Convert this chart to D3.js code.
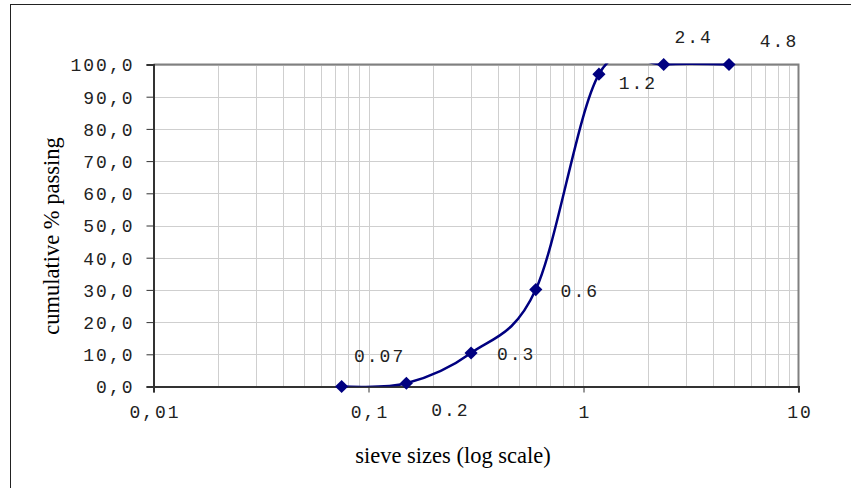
<!DOCTYPE html>
<html><head><meta charset="utf-8">
<script src="https://cdn.jsdelivr.net/npm/d3@7"></script>
<style>body{margin:0;background:#fff;} svg{display:block;}</style>
</head><body>
<svg id="c" width="851" height="488"></svg>
<script>
// ---- data ----
const sieveSizes = [0.075, 0.15, 0.3, 0.6, 1.18, 2.36, 4.75];
const passing    = [0.0, 1.0, 10.4, 30.1, 97.0, 100.0, 100.0];
const pointLabels = ["0.07", "0.2", "0.3", "0.6", "1.2", "2.4", "4.8"];
const xTickValues = [0.01, 0.1, 1, 10];
const xTickLabels = ["0,01", "0,1", "1", "10"];
const yTickValues = [0, 10, 20, 30, 40, 50, 60, 70, 80, 90, 100];
const xTitle = "sieve sizes (log scale)";
const yTitle = "cumulative % passing";

// ---- layout ----
const L = 153.5, R = 798.5, T = 64.5, B = 386.5;
const labelOffsets = [[37,-31],[43,26],[44,1],[43,1],[38,9],[29,-28],[49,-24]];
const monoFont = "'Liberation Mono', 'Courier New', monospace";
const serifFont = "'Liberation Serif', 'Times New Roman', serif";
const monoSize = 18, monoSpacing = 2;

const svg = d3.select("#c");
const x = d3.scaleLog().domain([0.01, 10]).range([L, R]);
const y = d3.scaleLinear().domain([0, 100]).range([B, T]);

// outer frame
svg.append("rect").attr("x", 10.5).attr("y", 4.5).attr("width", 1000).attr("height", 1000)
  .attr("fill", "none").attr("stroke", "#222").attr("stroke-width", 1);

// gridlines
const minor = [];
for (let d = 0.01; d < 10; d *= 10) for (let k = 1; k <= 9; k++) minor.push(d * k);
svg.append("g").selectAll("line").data(minor).join("line")
  .attr("x1", d => Math.round(x(d)) + 0.5).attr("x2", d => Math.round(x(d)) + 0.5)
  .attr("y1", T).attr("y2", B).attr("stroke", "#cfcfcf").attr("stroke-width", 1);
svg.append("g").selectAll("line").data(yTickValues).join("line")
  .attr("x1", L).attr("x2", R)
  .attr("y1", d => Math.round(y(d)) + 0.5).attr("y2", d => Math.round(y(d)) + 0.5)
  .attr("stroke", "#cfcfcf").attr("stroke-width", 1);

// plot border top/right
svg.append("path").attr("d", `M${L},${T}H${R}V${B}`).attr("fill", "none")
  .attr("stroke", "#808080").attr("stroke-width", 2);

// axes
const yAxis = d3.axisLeft(y).tickValues(yTickValues).tickSize(7).tickPadding(12)
  .tickFormat(d => d3.format(".1f")(d).replace(".", ","));
const gy = svg.append("g").attr("transform", `translate(${L},0)`).call(yAxis);
gy.select(".domain").attr("stroke", "#333").attr("stroke-width", 2);
gy.selectAll(".tick line").attr("stroke", "#333").attr("stroke-width", 1);
gy.selectAll(".tick text").attr("font-family", monoFont).attr("font-size", monoSize)
  .attr("letter-spacing", monoSpacing).attr("fill", "#222").attr("dy", "0.35em");

const xAxis = d3.axisBottom(x).tickValues(xTickValues).tickSize(6).tickPadding(13)
  .tickFormat((d, i) => xTickLabels[i]);
const gx = svg.append("g").attr("transform", `translate(0,${B})`).call(xAxis);
gx.select(".domain").attr("stroke", "#333").attr("stroke-width", 2);
gx.selectAll(".tick line").attr("stroke", "#333").attr("stroke-width", 1);
gx.selectAll(".tick text").attr("font-family", monoFont).attr("font-size", monoSize)
  .attr("letter-spacing", monoSpacing).attr("dx", monoSpacing / 2).attr("fill", "#222");

// clip
svg.append("clipPath").attr("id", "clip").append("rect")
  .attr("x", L).attr("y", T - 1).attr("width", R - L).attr("height", B - T + 1);

const pts = sieveSizes.map((s, i) => [x(s), y(passing[i])]);
svg.append("path").attr("clip-path", "url(#clip)")
  .attr("d", d3.line().curve(d3.curveCatmullRom.alpha(0))(pts))
  .attr("fill", "none").attr("stroke", "#000080").attr("stroke-width", 2.5);

svg.append("g").selectAll("path").data(pts).join("path")
  .attr("d", d3.symbol().type(d3.symbolDiamond2).size(110)())
  .attr("transform", d => `translate(${d[0]},${d[1]})`)
  .attr("fill", "#000080");

// point labels
svg.append("g").selectAll("text").data(pts).join("text")
  .attr("x", (d, i) => d[0] + labelOffsets[i][0] + monoSpacing / 2)
  .attr("y", (d, i) => d[1] + labelOffsets[i][1])
  .attr("dy", "0.35em").attr("text-anchor", "middle")
  .attr("font-family", monoFont).attr("font-size", monoSize).attr("letter-spacing", monoSpacing)
  .attr("fill", "#222")
  .text((d, i) => pointLabels[i]);

// titles
svg.append("text").attr("x", 453).attr("y", 463).attr("text-anchor", "middle")
  .attr("font-family", serifFont).attr("font-size", 22.5).attr("fill", "#000").text(xTitle);
svg.append("text").attr("transform", `translate(59,236) rotate(-90)`).attr("text-anchor", "middle")
  .attr("font-family", serifFont).attr("font-size", 22.5).attr("fill", "#000").text(yTitle);
</script>
</body></html>
